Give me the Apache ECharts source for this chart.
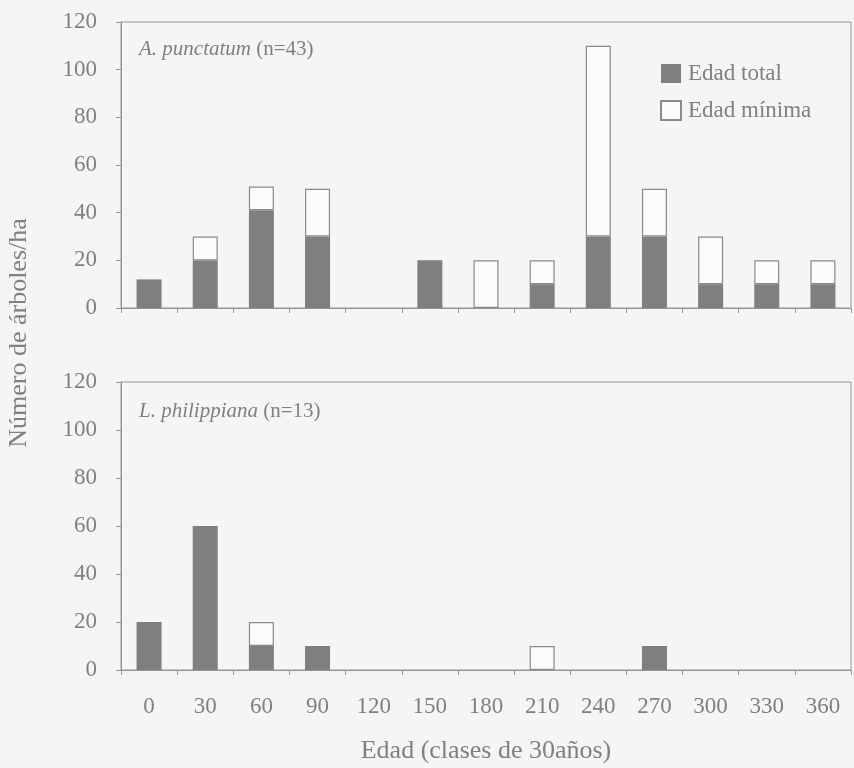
<!DOCTYPE html>
<html>
<head>
<meta charset="utf-8">
<script src="https://cdn.jsdelivr.net/npm/echarts@6/dist/echarts.min.js"></script>
<style>
html,body{margin:0;padding:0;background:#f5f5f5;}
#chart{width:854px;height:768px;}
</style>
</head>
<body>
<div id="chart"></div>
<script>
var categories = ['0','30','60','90','120','150','180','210','240','270','300','330','360'];
var yTicks = [0,20,40,60,80,100,120];
// A. punctatum (n=43)
var apTotal  = [12, 20, 41, 30, 0, 20, 0, 10, 30, 30, 10, 10, 10];
var apMinima = [0, 10, 10, 20, 0, 0, 20, 10, 80, 20, 20, 10, 10];
// L. philippiana (n=13)
var lpTotal  = [20, 60, 10, 10, 0, 0, 0, 0, 0, 10, 0, 0, 0];
var lpMinima = [0, 0, 10, 0, 0, 0, 0, 10, 0, 0, 0, 0, 0];

var FONT = 'Liberation Serif';
var TXT = '#808080';
var AX = '#959595';
var DARK = '#7f7f7f';

function noZero(arr){ return arr.map(function(v){ return v === 0 ? null : v; }); }

function gridCfg(top, height){
  return {left:121, right:3, top:top, height:height, show:true, borderColor:AX, borderWidth:1, backgroundColor:'transparent'};
}
function xAx(idx, showLabels){
  var a = {type:'category', gridIndex:idx, data:categories,
    axisLine:{lineStyle:{color:AX}},
    axisTick:{show:true, length:5, lineStyle:{color:AX}},
    axisLabel:{show:showLabels, fontFamily:FONT, fontSize:23, color:TXT, margin:25},
    splitLine:{show:false}};
  if(showLabels){
    a.name = 'Edad (clases de 30años)';
    a.nameLocation = 'middle';
    a.nameGap = 68;
    a.nameTextStyle = {fontFamily:FONT, fontSize:26, color:TXT};
  }
  return a;
}
function yAx(idx){
  return {type:'value', gridIndex:idx, min:yTicks[0], max:yTicks[yTicks.length-1], interval:20,
    axisLine:{show:true, lineStyle:{color:AX}},
    axisTick:{show:true, length:5, lineStyle:{color:AX}},
    axisLabel:{fontFamily:FONT, fontSize:23, color:TXT, margin:24},
    splitLine:{show:false}};
}
function totalSeries(idx, data){
  return {name:'Edad total', type:'bar', stack:'s'+idx, xAxisIndex:idx, yAxisIndex:idx,
    data:noZero(data), barWidth:25, itemStyle:{color:DARK}};
}
function minSeries(idx, data){
  return {name:'Edad mínima', type:'bar', stack:'s'+idx, xAxisIndex:idx, yAxisIndex:idx,
    data:noZero(data), barWidth:25, itemStyle:{color:'#fbfbfb', borderColor:'#8a8a8a', borderWidth:1.2}};
}

var chart = echarts.init(document.getElementById('chart'));
chart.setOption({
  backgroundColor:'#f5f5f5',
  animation:false,
  title:[
    {text:'{i|A. punctatum} (n=43)', left:134, top:34,
      textStyle:{fontFamily:FONT, fontSize:21, fontWeight:'normal', color:TXT,
        rich:{i:{fontFamily:FONT, fontSize:21, fontStyle:'italic', color:TXT}}}},
    {text:'{i|L. philippiana} (n=13)', left:134, top:396,
      textStyle:{fontFamily:FONT, fontSize:21, fontWeight:'normal', color:TXT,
        rich:{i:{fontFamily:FONT, fontSize:21, fontStyle:'italic', color:TXT}}}}
  ],
  legend:{orient:'vertical', left:655, top:57, itemWidth:20, itemHeight:19, itemGap:14,
    data:[
      {name:'Edad total', icon:'rect'},
      {name:'Edad mínima', icon:'rect'}
    ],
    textStyle:{fontFamily:FONT, fontSize:23, color:TXT, padding:[0,0,0,2]}},
  grid:[gridCfg(22, 286), gridCfg(382, 288)],
  xAxis:[xAx(0,false), xAx(1,true)],
  yAxis:[yAx(0), yAx(1)],
  graphic:[{type:'text', x:19, y:333, rotation:Math.PI/2,
    style:{text:'Número de árboles/ha', fontFamily:FONT, fontSize:26, fill:TXT, textAlign:'center', textVerticalAlign:'middle'}}],
  series:[
    totalSeries(0, apTotal), minSeries(0, apMinima),
    totalSeries(1, lpTotal), minSeries(1, lpMinima)
  ]
});
</script>
</body>
</html>
